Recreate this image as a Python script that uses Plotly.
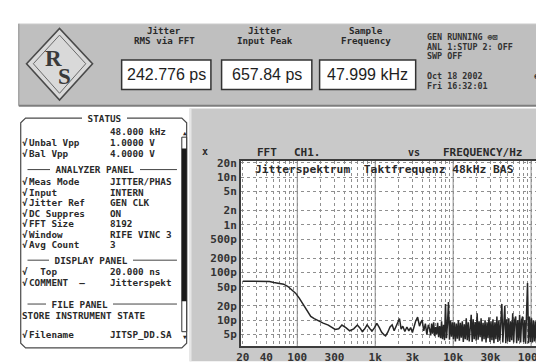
import plotly.graph_objects as go

# ---------------- data ----------------
spectrum_low_hz = [20, 25, 30, 35, 40, 44, 50, 57, 67, 76, 84, 95, 106, 118, 129,
                   149, 165, 188, 215, 250, 280, 306, 340, 374, 420, 470, 530, 590, 640, 682,
                   730, 787, 850, 910, 980, 1050, 1130, 1210, 1290, 1360, 1450, 1550, 1650, 1750, 1850,
                   1950, 2050, 2150, 2260, 2400, 2550, 2700, 2850, 3000, 3150, 3300, 3500, 3700, 3850, 4000,
                   4200, 4400, 4600, 4800]
spectrum_low_ps = [66, 66, 66, 66, 66, 65, 62, 60, 57, 51, 44, 37, 29, 22, 17,
                   12, 10.8, 9.6, 8.7, 7.9, 7.1, 6.4, 6.6, 7.9, 7.0, 6.0, 6.6, 7.9, 6.8, 5.8,
                   6.5, 8.0, 6.7, 5.9, 7.0, 8.6, 7.0, 5.6, 5.0, 4.7, 5.6, 7.2, 8.0, 6.0, 7.4,
                   8.8, 10.8, 6.5, 7.5, 5.8, 7.2, 6.0, 7.0, 5.5, 7.8, 9.5, 11.6, 7.5, 9.0, 10.0,
                   6.0, 8.5, 5.0, 8.0]
spectrum_high_hz = [5000, 5150, 5300, 5460, 5620, 5790, 5960, 6140, 6320, 6510,
                    6700, 6900, 7100, 7310, 7530, 7750, 7980, 8220, 8460, 8710,
                    8970, 9240, 9510, 9790, 10080, 10380, 10690, 11000, 11330, 11670,
                    12010, 12370, 12730, 13110, 13500, 13900, 14310, 14730, 15170, 15620,
                    16080, 16560, 17050, 17550, 18070, 18610, 19160, 19730, 20310, 20910,
                    21530, 22170, 22830, 23500, 24200, 24920, 25660, 26420, 27200, 28000,
                    28830, 29690, 30570, 31470, 32400, 33360, 34350, 35370, 36420, 37500,
                    38610, 39750, 40930, 42140, 43390, 44680, 46000, 47360, 48770, 50210,
                    51700, 53230, 54810, 56430, 58100, 59820, 61600, 63420, 65300, 67230,
                    69230, 71280, 73390, 75560, 77800, 80110, 82480, 84920, 87430, 90020,
                    92690, 95430, 98260, 101170, 104170, 107250, 110430, 113700, 117070, 120540]
spectrum_high_ps = [6.5, 4.8, 8.5, 5.2, 9.0, 4.6, 7.2, 5.0, 8.8, 4.4,
                    7.5, 4.2, 9.5, 4.0, 8.0, 3.8, 22, 4.2, 8.5, 24,
                    3.9, 10, 4.5, 9.0, 4.0, 9.0, 3.6, 8.5, 4.1, 10,
                    3.7, 8.8, 4.3, 9.5, 3.5, 8.2, 4.0, 11, 3.8, 9.0,
                    3.6, 8.5, 13, 3.5, 10.5, 4.0, 9.2, 3.7, 14, 3.9,
                    9.5, 4.4, 11, 3.6, 8.8, 4.0, 10, 3.4, 9.0, 4.2,
                    11.5, 3.5, 9.5, 3.8, 10.5, 3.3, 9.0, 4.0, 12, 3.5,
                    10, 3.7, 11, 22, 3.4, 9.5, 20, 3.3, 10.5, 3.6,
                    11, 3.5, 9.5, 3.8, 14, 3.4, 10, 12, 3.3, 10,
                    3.7, 13, 3.4, 10, 12, 3.5, 10, 3.2, 11.5, 60,
                    3.3, 12, 3.5, 11, 3.4, 10, 3.6, 9.5, 3.3, 9.5]

x_tick_vals = [20, 40, 100, 300, 1000, 3000, 10000, 30000, 100000]
x_tick_text = ["20", "40", "100", "300", "1k", "3k", "10k", "30k", "100k"]
y_tick_vals = [20000, 10000, 5000, 2000, 1000, 500, 200, 100, 50, 20, 10, 5]
y_tick_text = ["20n", "10n", "5n", "2n", "1n", "500p", "200p", "100p", "50p", "20p", "10p", "5p"]

readings = [("Jitter", "RMS via FFT", "242.776 ps"),
            ("Jitter", "Input Peak", "657.84 ps"),
            ("Sample", "Frequency", "47.999 kHz")]
# (check mark, parameter, value, y)
status_rows = [
    ("", "", "48.000 kHz", 122),
    ("√", "Unbal Vpp", "1.0000 V", 134),
    ("√", "Bal Vpp", "4.0000 V", 145),
    ("√", "Meas Mode", "JITTER/PHAS", 175),
    ("√", "Input", "INTERN", 186),
    ("√", "Jitter Ref", "GEN CLK", 197),
    ("√", "DC Suppres", "ON", 208),
    ("√", "FFT Size", "8192", 219),
    ("√", "Window", "RIFE VINC 3", 230),
    ("√", "Avg Count", "3", 241),
    ("√", "  Top", "20.000 ns", 269),
    ("√", "COMMENT  —", "Jitterspekt", 280),
    ("√", "Filename", "JITSP_DD.SA", 335),
]
status_plain = [("STORE INSTRUMENT STATE", 315)]
status_headers = [("STATUS", 92, 108), ("ANALYZER PANEL", 83, 162),
                  ("DISPLAY PANEL", 78, 257), ("FILE PANEL", 67, 303)]
info_lines = [("GEN RUNNING ⊕⊠", 23), ("ANL 1:STUP 2: OFF", 33), ("SWP OFF", 43),
              ("Oct 18 2002", 64), ("Fri 16:32:01", 74)]
plot_title = "Jitterspektrum  Taktfrequenz 48kHz BAS"

freq_hz = spectrum_low_hz + spectrum_high_hz
jitter_ps = spectrum_low_ps + spectrum_high_ps
assert len(freq_hz) == len(jitter_ps)

# ---------------- layout helpers ----------------
W, H = 544, 363
PL, PR, PT, PB = 233, 537, 153, 347
MONO = "DejaVu Sans Mono"


def px(x):
    return (x - PL) / (PR - PL)


def py(y):
    return (PB - y) / (PB - PT)


def nb(s):
    return s.replace(" ", "\u00a0")


shapes = []
ann = []


def rect(x0, y0, x1, y1, fill, line=None, lw=0):
    shapes.append(dict(type="rect", xref="paper", yref="paper",
                       x0=px(x0), x1=px(x1), y0=py(y1), y1=py(y0),
                       fillcolor=fill, line=dict(color=line or fill, width=lw), layer="below"))


def seg(x0, y0, x1, y1, color, w=1):
    shapes.append(dict(type="line", xref="paper", yref="paper",
                       x0=px(x0), x1=px(x1), y0=py(y0), y1=py(y1),
                       line=dict(color=color, width=w), layer="below"))


def path(pts, fill, line, lw):
    d = "M " + " L ".join(f"{px(a):.5f},{py(b):.5f}" for a, b in pts) + " Z"
    shapes.append(dict(type="path", xref="paper", yref="paper", path=d,
                       fillcolor=fill, line=dict(color=line, width=lw), layer="below"))


def text(x, y, s, size=11, anchor="left", color="#2a2a2a", family=MONO, weight="bold", bg=None):
    d = dict(xref="paper", yref="paper", x=px(x), y=py(y), text=nb(s), showarrow=False,
             xanchor=anchor, yanchor="middle", borderpad=0, borderwidth=0,
             font=dict(family=family, size=size, color=color, weight=weight))
    if bg:
        d["bgcolor"] = bg
    ann.append(d)


# ---------------- header bar ----------------
rect(4, 9, 544, 95, "#bfbfbf")
seg(4, 95, 544, 95, "#7e7e7e", 2)
seg(4, 9, 544, 9, "#e2e2e2", 1)
seg(4, 9, 4, 95, "#8a8a8a", 1)

# logo
path([(12, 51), (46, 14), (80, 51), (46, 89)], "#d9d9d9", "#4a4a4a", 1.6)
path([(19, 51), (46, 21), (73, 51), (46, 82)], "rgba(0,0,0,0)", "#6a6a6a", 1)
text(40, 46, "R", size=23, anchor="center", family="Liberation Serif", weight="bold", color="#3a3a3a")
text(51, 64, "S", size=23, anchor="center", family="Liberation Serif", weight="bold", color="#3a3a3a")

boxes = [(110, 202), (213, 306), (314, 413)]
for (x0, x1), (l1, l2, val) in zip(boxes, readings):
    cx = (x0 + x1) / 2
    text(cx - 2, 16, l1, size=9.2, anchor="center")
    text(cx - 2, 27, l2, size=9.2, anchor="center")
    rect(x0, 47, x1, 78, "white", "#333333", 1.5)
    text(cx, 62, val, size=16, anchor="center", weight="normal", color="#1e1e1e",
         family="Liberation Sans")

for s, yy in info_lines:
    text(425, yy, s, size=8.4, color="#333")
text(537, 64, "e", size=8.4, anchor="center", color="#333")

# ---------------- status panel ----------------
r = 5
sx0, sy0, sx1, sy1 = 6, 108, 177, 349
path([(sx0 + r, sy0), (sx1 - r, sy0), (sx1, sy0 + r), (sx1, sy1 - r), (sx1 - r, sy1),
      (sx0 + r, sy1), (sx0, sy1 - r), (sx0, sy0 + r)], "white", "#4a4a4a", 1.2)

SF = 9.3
for chk, lab, val, yy in status_rows:
    if chk:
        text(7, yy, chk, size=SF)
    if lab:
        text(15, yy, lab, size=SF)
    text(98, yy, val, size=SF)
for s, yy in status_plain:
    text(7, yy, s, size=SF)
for h, cx, yy in status_headers:
    if yy != 108:
        seg(13, yy, 167, yy, "#444", 1)
    text(cx, yy, " " + h + " ", size=SF, anchor="center", bg="white")

# scrollbar
rect(172, 128, 177, 332, "white", "#333", 1)
rect(172, 140, 177, 300, "#1a1a1a")
text(175, 123, "▲", size=6, anchor="center")
text(175, 337, "▼", size=6, anchor="center")

# ---------------- graph panel ----------------
rect(180, 98, 544, 363, "#c9c9c9")
seg(181, 98, 181, 363, "#e6e6e6", 2)
rect(PL, PT, PR, PB, "white")

text(196, 143, "x", size=10, anchor="center")
text(260, 144, "FFT", size=11, anchor="center")
text(302, 144, "CH1.", size=11, anchor="center")
text(411, 144, "vs", size=10, anchor="center")
text(482, 144, "FREQUENCY/Hz", size=11, anchor="center")
text(247, 162, plot_title, size=11.3)

# decade lines (solid)
for d in [100, 1000, 10000, 100000]:
    shapes.append(dict(type="line", xref="x", yref="paper", x0=d, x1=d, y0=0, y1=1,
                       line=dict(color="#8c8c8c", width=1), layer="below"))

x_minor = [m * 10 ** e for e in range(1, 6) for m in range(1, 10)
           if 19 <= m * 10 ** e <= 116000]

# ---------------- figure ----------------
fig = go.Figure()
fig.add_trace(go.Scatter(x=freq_hz, y=jitter_ps, mode="lines",
                         line=dict(color="#262626", width=1.5),
                         hoverinfo="skip", showlegend=False))

tickfont = dict(family=MONO, size=11, color="#333", weight="bold")
fig.update_layout(
    width=W, height=H, autosize=False,
    margin=dict(l=PL, r=W - PR, t=PT, b=H - PB, pad=0),
    paper_bgcolor="white", plot_bgcolor="white",
    showlegend=False,
    shapes=shapes, annotations=ann,
    xaxis=dict(type="log", range=[1.278, 5.063], tickvals=x_tick_vals, ticktext=x_tick_text,
               showgrid=False, zeroline=False, ticks="", tickfont=tickfont,
               minor=dict(tickvals=x_minor, showgrid=True, gridcolor="#8f8f8f",
                          griddash="dot", gridwidth=1, ticks=""),
               showline=True, mirror=True, linecolor="#3c3c3c", linewidth=2, fixedrange=True),
    yaxis=dict(type="log", range=[0.459, 4.341], tickvals=y_tick_vals, ticktext=y_tick_text,
               showgrid=True, gridcolor="#8f8f8f", griddash="dot", gridwidth=1,
               zeroline=False, ticks="", tickfont=tickfont,
               showline=True, mirror=True, linecolor="#3c3c3c", linewidth=2, fixedrange=True),
)

fig.write_html("out.html")
